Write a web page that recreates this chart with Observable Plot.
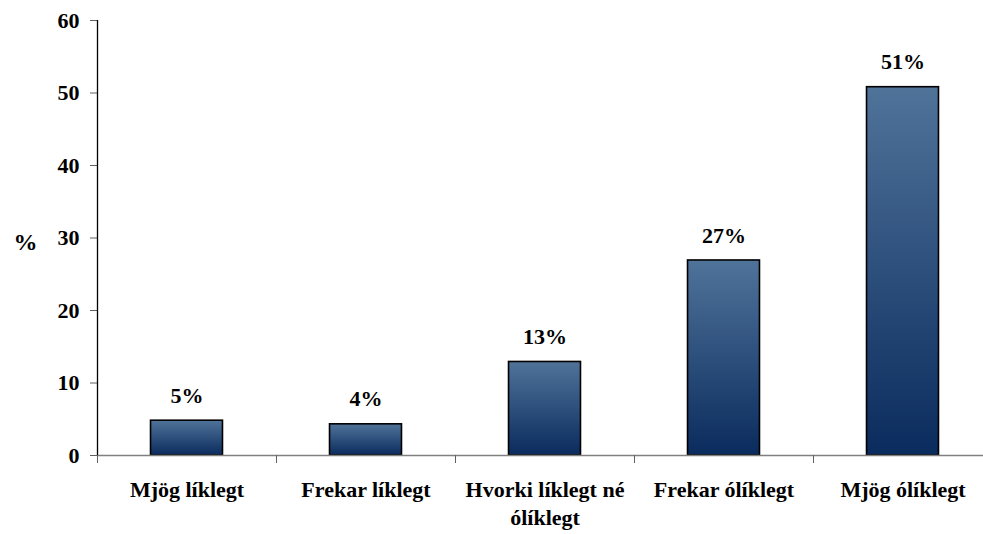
<!DOCTYPE html>
<html>
<head>
<meta charset="utf-8">
<script src="https://cdn.jsdelivr.net/npm/d3@7"></script>
<script src="https://cdn.jsdelivr.net/npm/@observablehq/plot@0.6"></script>
<style>
  body { margin: 0; background: white; }
  #chart svg { font-family: "Liberation Serif", "Times New Roman", serif; font-weight: bold; }
</style>
</head>
<body>
<div id="chart"></div>
<script>
const categories = ["Mjög líklegt", "Frekar líklegt", "Hvorki líklegt né\nólíklegt", "Frekar ólíklegt", "Mjög ólíklegt"];
const values = [4.8, 4.3, 12.9, 26.9, 50.8];
const valueLabels = ["5%", "4%", "13%", "27%", "51%"];
const yTicks = [0, 10, 20, 30, 40, 50, 60];

const data = categories.map((c, i) => ({i, category: c, value: values[i], label: valueLabels[i]}));
const boundaries = d3.range(categories.length + 1);
const centers = categories.map((c, i) => i + 0.5);

const plot = Plot.plot({
  width: 983,
  height: 534,
  marginLeft: 97,
  marginRight: 0,
  marginTop: 20,
  marginBottom: 79,
  style: {fontSize: "22px", fontFamily: "'Liberation Serif', 'Times New Roman', serif", fontWeight: "bold", color: "black", background: "white"},
  x: {type: "linear", domain: [0, categories.length], range: [97, 992]},
  y: {domain: [0, 60], range: [455, 20]},
  marks: [
    () => {
      const svg = d3.create("svg:defs");
      const g = svg.append("linearGradient").attr("id", "barGrad").attr("x1", 0).attr("y1", 0).attr("x2", 0).attr("y2", 1);
      g.append("stop").attr("offset", "0%").attr("stop-color", "#50739a");
      g.append("stop").attr("offset", "100%").attr("stop-color", "#0a2b5d");
      return svg.node();
    },
    Plot.rectY(data, {x1: d => d.i + 0.299, x2: d => d.i + 0.701, y: "value", fill: "url(#barGrad)", stroke: "black", strokeWidth: 1.6}),
    Plot.ruleY([0], {stroke: "#808080", strokeWidth: 1.3}),
    Plot.axisY({ticks: yTicks, tickSize: 7, tickPadding: 11, stroke: "#606060", label: null, fontSize: 22, fontWeight: "bold", fill: "black"}),
    Plot.ruleX([0], {x: () => 0, y1: 0, y2: 60, stroke: "black", strokeWidth: 1.3}),
    Plot.axisX({ticks: boundaries, tickSize: 8, tickFormat: () => "", stroke: "#606060", label: null}),
    Plot.axisX({ticks: centers, tickSize: 0, tickPadding: 22, tickFormat: v => categories[Math.floor(v)], lineHeight: 1.27, label: null, fontSize: 22, fontWeight: "bold", fill: "black"}),
    Plot.text(data, {x: d => d.i + 0.5, y: "value", text: "label", dy: -25, fontSize: 22, fontWeight: "bold", fill: "black"}),
    Plot.text(["%"], {frameAnchor: "left", dx: -84, dy: 4, text: d => d, fontSize: 24, fontWeight: "bold", fill: "black"})
  ]
});
document.getElementById("chart").appendChild(plot);
</script>
</body>
</html>
